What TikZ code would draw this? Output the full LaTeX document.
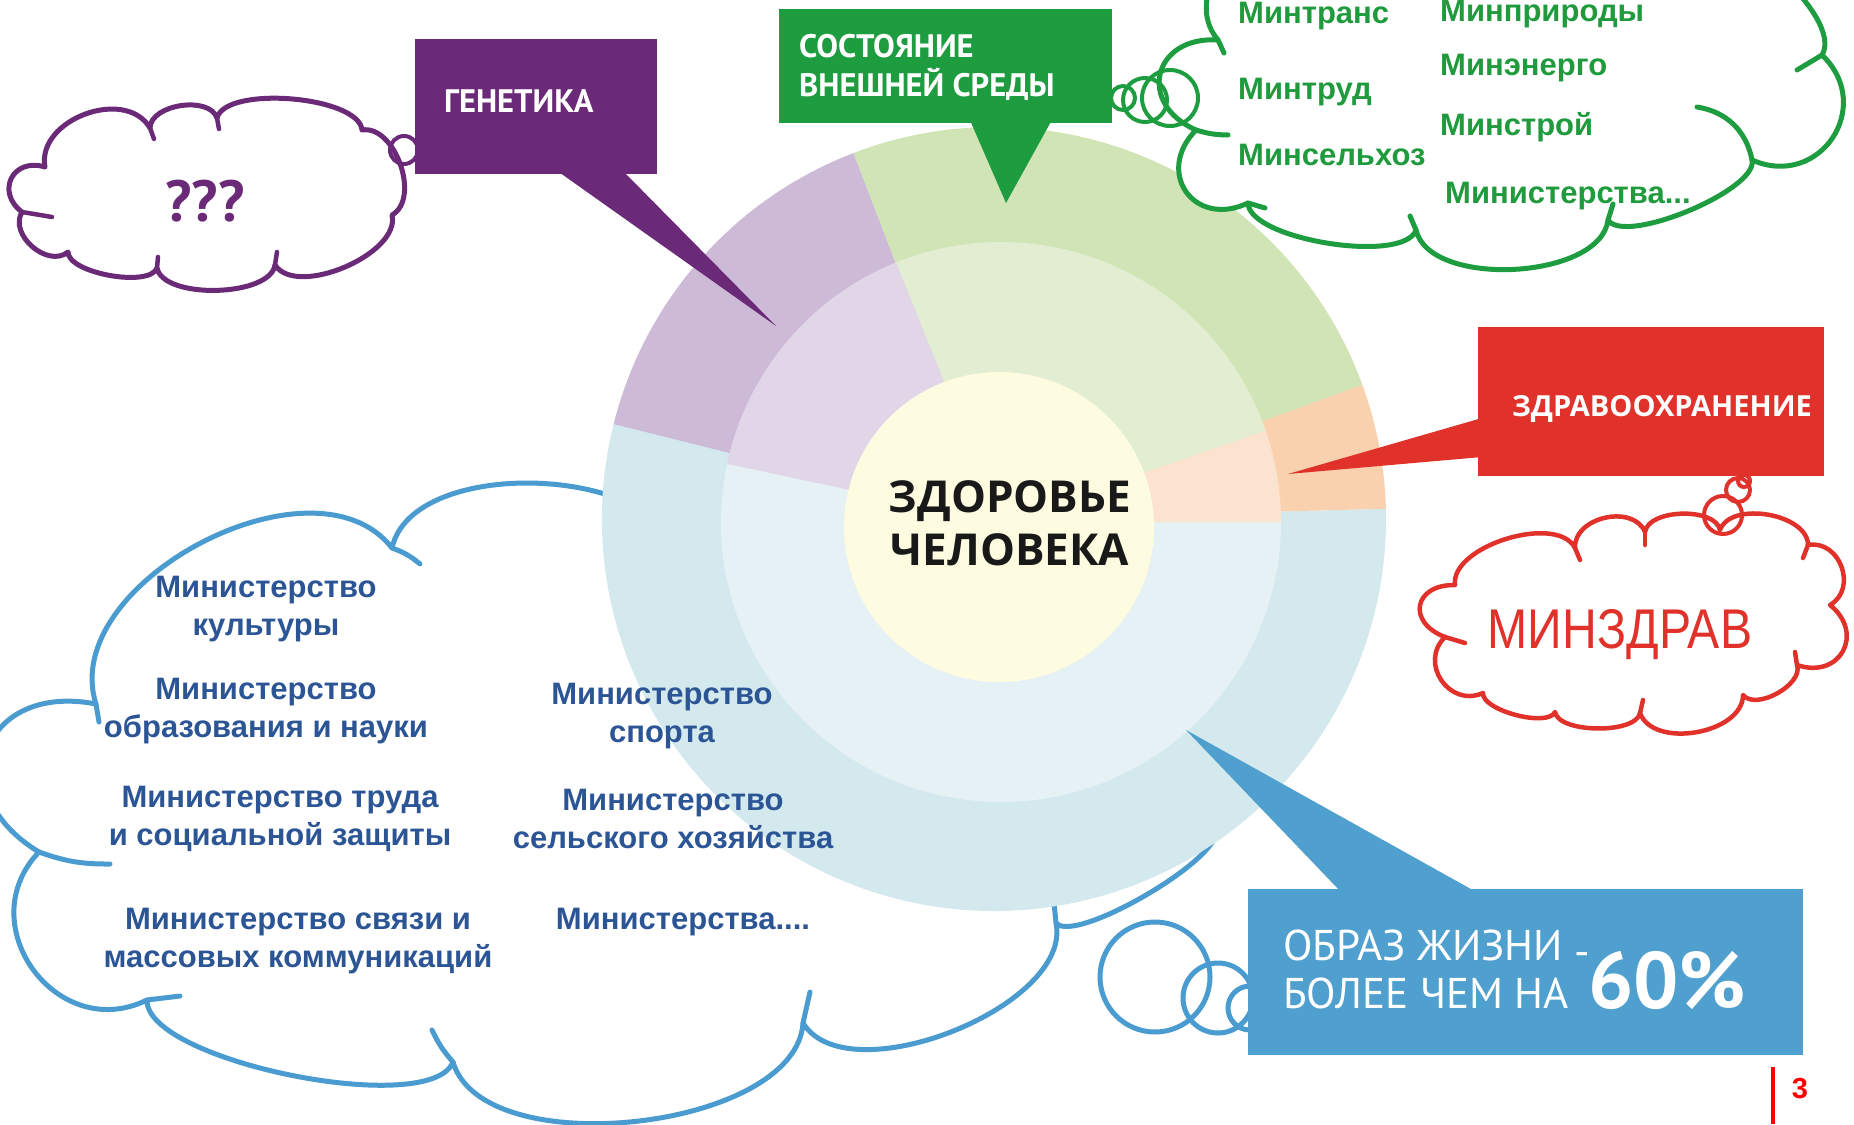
\documentclass[tikz,border=0pt]{standalone}
\usepackage{fontspec}
\setmainfont{Liberation Sans}
\newfontfamily\pts{PT Sans}
\newfontfamily\opens{Open Sans}
\newfontfamily\narrowsans[FakeStretch=0.86]{Liberation Sans}
\definecolor{gPurple}{HTML}{6B2A78}
\definecolor{gGreen}{HTML}{1E9C40}
\definecolor{gRed}{HTML}{E0322B}
\definecolor{gBlue}{HTML}{50A0CF}
\definecolor{cloudBlue}{HTML}{4A9BD0}
\definecolor{txtBlue}{HTML}{2C5596}
\definecolor{txtGreen}{HTML}{1F9A3D}
\definecolor{oPurple}{HTML}{CDBAD6}
\definecolor{iPurple}{HTML}{E1D5E8}
\definecolor{oGreen}{HTML}{D0E4B6}
\definecolor{iGreen}{HTML}{E2EDD2}
\definecolor{oOrange}{HTML}{F9D1AF}
\definecolor{iOrange}{HTML}{FCE3CF}
\definecolor{oBlue}{HTML}{D3E9EE}
\definecolor{iBlue}{HTML}{E5F1F4}
\definecolor{coreY}{HTML}{FDFBE0}
\definecolor{pageRed}{HTML}{FF0000}
\begin{document}
\begin{tikzpicture}[x=1pt,y=1pt,
  lobe/.style={bend left=80, looseness=#1},
  cloudline/.style={draw=#1, line width=5pt, fill=white, line join=round},
  hookline/.style={draw=#1, line width=5pt, line cap=round},
  bubble/.style={draw=#1, line width=4pt},
  calloutbox/.style={fill=#1, draw=none, inner sep=0pt, anchor=north west},
  boxtxt/.style={text=white, font=\pts\bfseries\fontsize{32.5}{37}\selectfont, inner sep=0pt},
  mintxt/.style={text=txtBlue, font=\bfseries\fontsize{31}{38}\selectfont, align=center, inner sep=0pt},
  greentxt/.style={text=txtGreen, font=\bfseries\fontsize{31}{37}\selectfont, inner sep=0pt, anchor=base west}]
\clip (0,0) rectangle (1854,-1124);
\fill[white] (0,0) rectangle (1854,-1124);

% ---------- blue cloud (behind the circle)
\draw[cloudline=cloudBlue] (96,-704) to[lobe=0.97] (392,-548) to[lobe=0.85] (680,-560)
  -- (1215,-830) to[lobe=0.4] (1056,-923) to[lobe=0.8] (803,-1023) to[lobe=0.78] (453,-1062)
  to[lobe=0.5] (147,-1000) to[lobe=1.4] (39,-852) to[lobe=1.85] (96,-704) -- cycle;
\draw[hookline=cloudBlue] (392,-548) to[bend left=10] (420,-564);
\draw[hookline=cloudBlue] (39,-852) to[bend right=10] (110,-864);
\draw[hookline=cloudBlue] (147,-1000) -- (180,-996);
\draw[hookline=cloudBlue] (453,-1062) to[bend left=8] (432,-1030);
\draw[hookline=cloudBlue] (803,-1023) -- (810,-992);
\draw[hookline=cloudBlue] (1056,-923) -- (1054,-903);
\draw[hookline=cloudBlue] (96,-704) -- (99,-722);
\draw[bubble=cloudBlue, line width=5pt] (1155,-977) circle[radius=55];
\draw[bubble=cloudBlue, line width=5pt] (1218,-998) circle[radius=35];
\draw[bubble=cloudBlue, line width=5pt] (1250,-1008) circle[radius=22];

% ---------- main circle
\coordinate (O1) at (994,-519);
\coordinate (O2) at (1001,-522);
\fill[oBlue] (O1) -- ++(166:392) arc[start angle=166, end angle=361.5, radius=392] -- cycle;
\fill[oPurple] (O1) -- ++(111:392) arc[start angle=111, end angle=166, radius=392] -- cycle;
\fill[oGreen] (O1) -- ++(20:392) arc[start angle=20, end angle=111, radius=392] -- cycle;
\fill[oOrange] (O1) -- ++(1.5:392) arc[start angle=1.5, end angle=20, radius=392] -- cycle;
\fill[iBlue] (O2) -- ++(168:280) arc[start angle=168, end angle=360, radius=280] -- cycle;
\fill[iPurple] (O2) -- ++(112:280) arc[start angle=112, end angle=168, radius=280] -- cycle;
\fill[iGreen] (O2) -- ++(19:280) arc[start angle=19, end angle=112, radius=280] -- cycle;
\fill[iOrange] (O2) -- ++(0:280) arc[start angle=0, end angle=19, radius=280] -- cycle;
\node[circle, fill=coreY, minimum size=310pt, inner sep=0pt] (core) at (999,-527) {};

% ---------- genetics cloud
\draw[cloudline=gPurple] (22,-212) to[lobe=1.7] (45,-167) to[lobe=1.1] (150,-128)
  to[lobe=0.9] (217,-118) to[lobe=0.6] (362,-130) to[lobe=0.95] (392,-215)
  to[lobe=0.8] (275,-265) to[lobe=0.7] (157,-268) to[lobe=0.6] (68,-252)
  to[lobe=1.1] (22,-212) -- cycle;
\draw[hookline=gPurple, line width=4.5pt] (150,-128) -- (154,-139);
\draw[hookline=gPurple, line width=4.5pt] (217,-118) -- (219,-129);
\draw[hookline=gPurple, line width=4.5pt] (275,-265) -- (277,-252);
\draw[hookline=gPurple, line width=4.5pt] (157,-268) -- (158,-257);
\draw[hookline=gPurple, line width=4.5pt] (22,-212) -- (52,-217);
\draw[bubble=gPurple] (404,-150) circle[radius=14];

% ---------- green cloud
\draw[cloudline=gGreen] (1218,-40) to[lobe=1.2] (1300,60) to[lobe=1] (1480,60)
  to[lobe=1] (1690,60) to[lobe=0.65] (1822,-55) to[lobe=1.5] (1752,-160)
  to[lobe=0.5] (1608,-220) to[lobe=0.8] (1416,-230) to[lobe=0.55] (1248,-203)
  to[lobe=1.7] (1196,-130) to[lobe=1.8] (1218,-40) -- cycle;
\draw[hookline=gGreen] (1218,-40) -- (1224,-53);
\draw[hookline=gGreen] (1196,-130) to[bend right=8] (1228,-135);
\draw[hookline=gGreen] (1248,-203) -- (1265,-208);
\draw[hookline=gGreen] (1416,-230) -- (1410,-216);
\draw[hookline=gGreen] (1608,-220) -- (1613,-204);
\draw[hookline=gGreen] (1752,-160) to[bend right=35] (1697,-107);
\draw[hookline=gGreen] (1822,-55) -- (1797,-70);
\draw[bubble=gGreen] (1123,-98) circle[radius=12];
\draw[bubble=gGreen] (1145,-100) circle[radius=22];
\draw[bubble=gGreen] (1170,-98) circle[radius=28];

% ---------- red cloud
\draw[cloudline=gRed, line width=4.5pt] (1455,-585) to[lobe=0.8] (1575,-548) to[lobe=1.1] (1645,-532)
  to[lobe=0.8] (1720,-530) to[lobe=0.9] (1808,-545) to[lobe=1.3] (1830,-605)
  to[lobe=1.7] (1797,-665) to[lobe=0.85] (1743,-695) to[lobe=0.95] (1640,-713)
  to[lobe=0.65] (1555,-712) to[lobe=0.6] (1483,-693) to[lobe=1.4] (1445,-637)
  to[lobe=2] (1455,-585) -- cycle;
\draw[hookline=gRed, line width=4.5pt] (1575,-548) -- (1580,-560);
\draw[hookline=gRed, line width=4.5pt] (1645,-532) -- (1645,-545);
\draw[hookline=gRed, line width=4.5pt] (1808,-545) -- (1803,-558);
\draw[hookline=gRed, line width=4.5pt] (1797,-665) -- (1795,-652);
\draw[hookline=gRed, line width=4.5pt] (1640,-713) -- (1643,-700);
\draw[hookline=gRed, line width=4.5pt] (1445,-637) -- (1465,-643);
\draw[bubble=gRed] (1723,-515) circle[radius=19];
\draw[bubble=gRed] (1738,-490) circle[radius=12];
\draw[bubble=gRed] (1744,-481) circle[radius=6];

% ---------- callout pointers
\coordinate (genTip) at (776,-326);
\coordinate (envTip) at (1006,-203);
\coordinate (medTip) at (1288,-474);
\coordinate (lifeTip) at (1186,-730);
\fill[gPurple] (556,-170) -- (622,-170) -- (genTip) -- cycle;
\fill[gGreen] (969,-118) -- (1053,-118) -- (envTip) -- cycle;
\fill[gRed] (1482,-418) -- (1482,-457) -- (medTip) -- cycle;
\fill[gBlue] (1342,-893) -- (1478,-893) -- (lifeTip) -- cycle;

% ---------- boxes
\node[calloutbox=gPurple, minimum width=242pt, minimum height=135pt] (gen) at (415,-39) {};
\node[calloutbox=gGreen, minimum width=333pt, minimum height=114pt] (env) at (779,-9) {};
\node[calloutbox=gRed, minimum width=346pt, minimum height=149pt] (med) at (1478,-327) {};
\node[calloutbox=gBlue, minimum width=555pt, minimum height=166pt] (life) at (1248,-889) {};

% ---------- box texts
\node[boxtxt, anchor=base west] (genT) at (444,-112) {ГЕНЕТИКА};
\node[boxtxt, anchor=base west] (envT1) at (799,-58) {СОСТОЯНИЕ};
\node[boxtxt, anchor=base west] (envT2) at (799,-96) {ВНЕШНЕЙ СРЕДЫ};
\node[text=white, font=\opens\bfseries\fontsize{29}{34}\selectfont, inner sep=0pt, anchor=base] (medT) at (1662,-416) {ЗДРАВООХРАНЕНИЕ};
\node[text=white, font=\pts\fontsize{43}{48}\selectfont, inner sep=0pt, anchor=base west] (lifeT1) at (1283,-960) {ОБРАЗ ЖИЗНИ \raisebox{-0.15em}{-}};
\node[text=white, font=\pts\fontsize{43}{48}\selectfont, inner sep=0pt, anchor=base west] (lifeT2) at (1283,-1008) {БОЛЕЕ ЧЕМ НА};
\node[text=white, font=\pts\bfseries\fontsize{80}{86}\selectfont, inner sep=0pt, anchor=base west] (lifeT3) at (1588,-1008) {60\%};

% ---------- centre text
\node[text=black!90, font=\opens\bfseries\fontsize{44}{53}\selectfont, inner sep=0pt, anchor=base] (hT1) at (1010,-512) {ЗДОРОВЬЕ};
\node[text=black!90, font=\opens\bfseries\fontsize{44}{53}\selectfont, inner sep=0pt, anchor=base] (hT2) at (1010,-565) {ЧЕЛОВЕКА};

% ---------- cloud texts
\node[text=gPurple, font=\pts\bfseries\fontsize{58}{60}\selectfont, inner sep=0pt, anchor=base] (q) at (205,-221) {???};
\node[text=gRed, font=\narrowsans\fontsize{56}{60}\selectfont, inner sep=0pt, anchor=base] (mz) at (1620,-648) {МИНЗДРАВ};

\node[greentxt] (g1) at (1238,-24) {Минтранс};
\node[greentxt] (g2) at (1440,-22) {Минприроды};
\node[greentxt] (g3) at (1440,-75) {Минэнерго};
\node[greentxt] (g4) at (1238,-99) {Минтруд};
\node[greentxt] (g5) at (1440,-135) {Минстрой};
\node[greentxt] (g6) at (1238,-165) {Минсельхоз};
\node[greentxt] (g7) at (1445,-203) {Министерства...};

\node[mintxt] (m1) at (266,-609) {Министерство\\культуры};
\node[mintxt] (m2) at (266,-711) {Министерство\\образования и науки};
\node[mintxt] (m3) at (280,-819) {Министерство труда\\и социальной защиты};
\node[mintxt] (m4) at (298,-941) {Министерство связи и\\массовых коммуникаций};
\node[mintxt] (m5) at (662,-716) {Министерство\\спорта};
\node[mintxt] (m6) at (673,-819) {Министерство\\сельского хозяйства};
\node[mintxt] (m7) at (683,-922) {Министерства....};

% ---------- page number
\fill[pageRed] (1771,-1067) rectangle (1775,-1124);
\node[text=pageRed, font=\bfseries\fontsize{29}{32}\selectfont, inner sep=0pt, anchor=base] (pg) at (1800,-1098) {3};
\end{tikzpicture}
\end{document}
